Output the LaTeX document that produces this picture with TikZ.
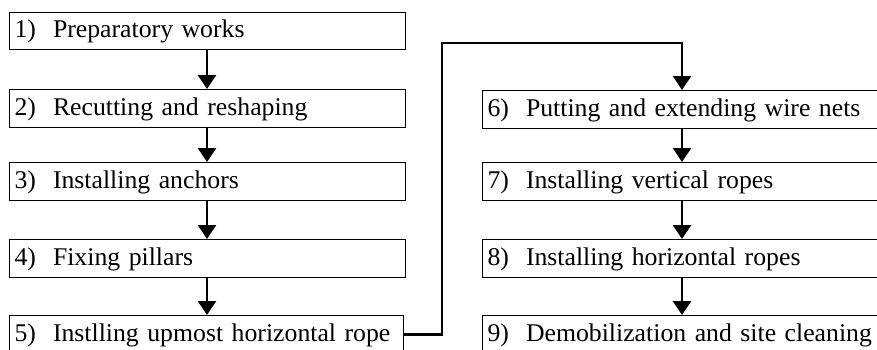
\documentclass[tikz,border=0pt]{standalone}
\usepackage{fontspec}
\setmainfont{Liberation Serif}[FakeStretch=1.01]
\usetikzlibrary{arrows.meta}
\begin{document}
\begin{tikzpicture}[x=1pt,y=-1pt,
  stepbox/.style={draw, line width=1.1pt, rectangle, anchor=north west,
    minimum height=37.5pt, inner xsep=5pt, inner ysep=0pt, align=left,
    text height=18pt, text depth=4pt,
    font=\fontsize{25.5}{27}\selectfont},
  leftbox/.style={stepbox, minimum width=396pt, text width=386pt},
  rightbox/.style={stepbox, minimum width=420pt, text width=410pt},
  flow/.style={line width=2.6pt, -{Triangle[length=14pt,width=18pt]}}]
\useasboundingbox (0,0) rectangle (877,349);
\clip (0,0) rectangle (877,349);

% left column
\node[leftbox] (b1) at (9,11.5) {\mbox{1)~~Preparatory works}};
\node[leftbox] (b2) at (9,89)   {\mbox{2)~~Recutting and reshaping}};
\node[leftbox] (b3) at (9,162)  {\mbox{3)~~Installing anchors}};
\node[leftbox] (b4) at (9,239)  {\mbox{4)~~Fixing pillars}};
\node[stepbox, minimum width=394pt, text width=384pt] (b5) at (9,315)
  {\mbox{5)~~Instlling upmost horizontal rope}};

% right column
\node[rightbox] (b6) at (482,90)  {\mbox{6)~~Putting and extending wire nets}};
\node[rightbox] (b7) at (482,162) {\mbox{7)~~Installing vertical ropes}};
\node[rightbox] (b8) at (482,239) {\mbox{8)~~Installing horizontal ropes}};
\node[rightbox] (b9) at (482,315) {\mbox{9)~~Demobilization and site cleaning}};

% arrow columns and the jog between the two columns
\coordinate (lx) at (207,0);
\coordinate (rx) at (682,0);
\coordinate (jog) at (442,43);

\draw[flow] (b1.south -| lx) -- (b2.north -| lx);
\draw[flow] (b2.south -| lx) -- (b3.north -| lx);
\draw[flow] (b3.south -| lx) -- (b4.north -| lx);
\draw[flow] (b4.south -| lx) -- (b5.north -| lx);

\draw[flow] (b5.east) -| (jog) -| (b6.north -| rx);

\draw[flow] (b6.south -| rx) -- (b7.north -| rx);
\draw[flow] (b7.south -| rx) -- (b8.north -| rx);
\draw[flow] (b8.south -| rx) -- (b9.north -| rx);
\end{tikzpicture}
\end{document}
